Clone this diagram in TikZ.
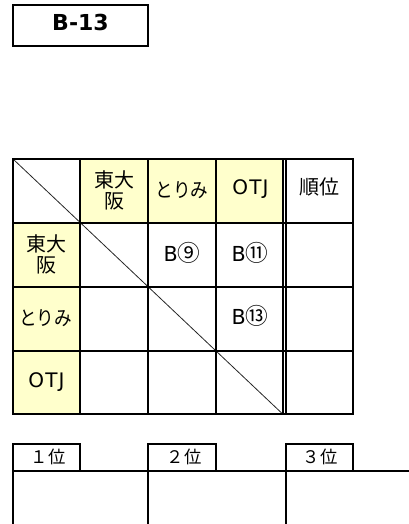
\documentclass[tikz,border=0pt]{standalone}
\usepackage{fontspec}
\setmainfont{DejaVu Sans}
\newfontfamily\jp{Noto Sans CJK JP}
\newfontfamily\otjfont[LetterSpace=6]{DejaVu Sans}
\definecolor{hdr}{HTML}{FFFFCC}
\tikzset{
  grid/.style={line width=1.5pt, line cap=rect},
  thinline/.style={line width=0.6pt, draw=black!85},
  dbl/.style={line width=1pt, line cap=rect},
  cjk/.style={font=\jp\fontsize{15}{15.5}\selectfont, align=center, inner sep=0pt},
  kana/.style={font=\jp\fontsize{15}{16}\selectfont, inner sep=0pt},
  lat/.style={font=\fontsize{15.5}{17}\selectfont, inner sep=0pt},
  otj/.style={font=\otjfont\fontsize{15}{17}\selectfont, inner sep=0pt},
  tabtxt/.style={font=\jp\fontsize{13}{14}\selectfont, inner sep=0pt},
}
\newcommand{\circd}[1]{{\jp\fontsize{17}{17}\selectfont #1}}
\newcommand{\narrowk}[1]{\scalebox{0.88}[1]{#1}}
\begin{document}
\begin{tikzpicture}[x=0.75pt,y=-0.75pt]
\useasboundingbox (0,0) rectangle (408,524);
% title box
\draw[grid] (13,5) rectangle (148,46);
\node[font=\bfseries\fontsize{16.5}{18}\selectfont, inner sep=0pt] (title) at (80.5,22.5) {B-13};
% coordinates
\def\ca{13}\def\cb{80}\def\cc{148}\def\cd{215.8}\def\ce{283}\def\cf{286}\def\cg{352.7}
\def\ra{159}\def\rb{222.7}\def\rc{286.5}\def\rd{350.5}\def\re{414.3}
% fills
\fill[hdr] (\cb,\ra) rectangle (\ce,\rb);
\fill[hdr] (\ca,\rb) rectangle (\cb,\re);
% diagonal
\draw[thinline] (\ca,\ra) -- (\ce,\re);
% horizontal lines
\foreach \y in {\ra,\rb,\rc,\rd,\re} \draw[grid] (\ca,\y) -- (\cg,\y);
% vertical lines
\foreach \x in {\ca,\cb,\cc,\cd} \draw[grid] (\x,\ra) -- (\x,\re);
\draw[dbl] (\ce,\ra) -- (\ce,\re);
\draw[dbl] (\cf,\ra) -- (\cf,\re);
\draw[grid] (\cg,\ra) -- (\cg,\re);
% header texts
\node[cjk] (h1) at (114,190.5) {東大\\阪};
\node[kana] (h2) at (182,190.5) {\narrowk{とりみ}};
\node[otj] (h3) at (250.5,189) {OTJ};
\node[cjk] (h4) at (319.5,187) {順位};
\node[cjk] (v1) at (46.5,254.5) {東大\\阪};
\node[kana] (v2) at (45.5,318.5) {\narrowk{とりみ}};
\node[otj] (v3) at (46.5,382.5) {OTJ};
% results
\node[lat] (m12) at (182,253) {B\circd{⑨}};
\node[lat] (m13) at (250,253) {B\circd{⑪}};
\node[lat] (m23) at (250,316) {B\circd{⑬}};
% ranking boxes
\draw[grid] (\ca,443.7) rectangle (80,471);
\draw[grid] (148,443.7) rectangle (216,471);
\draw[grid] (285.5,443.7) rectangle (353.3,471);
\draw[grid] (\ca,471) -- (410,471);
\foreach \x in {13,148,285.5} \draw[grid] (\x,471) -- (\x,528);
\node[tabtxt] (t1) at (48,457) {１位};
\node[tabtxt] (t2) at (184,457) {２位};
\node[tabtxt] (t3) at (320,457) {３位};
\end{tikzpicture}
\end{document}
